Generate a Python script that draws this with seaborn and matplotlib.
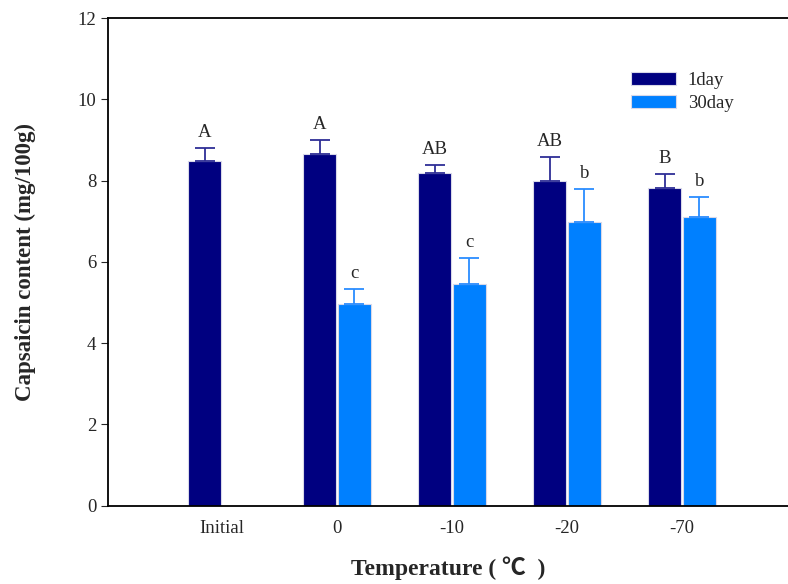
import pandas as pd
import seaborn as sns
import matplotlib.pyplot as plt
import numpy as np

temps = ['Initial', '0', '-10', '-20', '-70']
day1 = [8.48, 8.66, 8.19, 7.99, 7.82]
day1_err = [0.32, 0.34, 0.20, 0.60, 0.34]
day30 = [np.nan, 4.97, 5.46, 6.98, 7.11]
day30_err = [np.nan, 0.37, 0.64, 0.81, 0.49]
letters1 = ['A', 'A', 'AB', 'AB', 'B']
letters30 = ['', 'c', 'c', 'b', 'b']

df = pd.DataFrame({'Temperature': temps * 2,
                   'value': day1 + day30,
                   'err': day1_err + day30_err,
                   'letter': letters1 + letters30,
                   'group': ['1day'] * 5 + ['30day'] * 5})

sns.set_style("ticks")
plt.rcParams['font.family'] = ['Liberation Serif', 'DejaVu Sans']

fig = plt.figure(figsize=(7.88, 5.84), dpi=100)
ax = fig.add_axes([0.137, 0.134, 0.863, 0.835])

colors = {'1day': '#000080', '30day': '#0080ff'}
err_colors = {'1day': '#2e2e96', '30day': '#2a8cff'}

sns.barplot(data=df, x='Temperature', y='value', hue='group', order=temps,
            palette=colors, saturation=1, errorbar=None, width=0.6, gap=0.05,
            edgecolor='#d8d8e8', linewidth=0.8, ax=ax)

# upper error bars + significance letters
for cont, grp in zip(ax.containers, ['1day', '30day']):
    sub = df[df['group'] == grp].dropna(subset=['value'])
    for bar, (_, row) in zip(cont, sub.iterrows()):
        xc = bar.get_x() + bar.get_width() / 2
        ax.errorbar(xc, row['value'], yerr=[[0], [row['err']]], fmt='none',
                    ecolor=err_colors[grp], elinewidth=1.3, capsize=7, capthick=1.3)
        ax.annotate(row['letter'], xy=(xc, row['value'] + row['err']),
                    xytext=(0, 5), textcoords='offset points',
                    ha='center', va='bottom', fontsize=13.5)

ax.set_ylim(0, 12)
ax.set_yticks(range(0, 13, 2))
ax.set_xlim(-0.99, 4.92)
ax.tick_params(axis='x', length=0, labelsize=13.5, pad=10)
ax.tick_params(axis='y', direction='out', length=5, labelsize=13.5)
ax.spines['right'].set_visible(False)
for s in ['left', 'bottom', 'top']:
    ax.spines[s].set_linewidth(1.3)
    ax.spines[s].set_color('black')

ax.set_xlabel('Temperature ( \u2103  )', fontsize=17, fontweight='bold', labelpad=14,
              family=['Liberation Serif', 'Noto Sans CJK SC', 'DejaVu Sans'])
ax.set_ylabel('Capsaicin content (mg/100g)', fontsize=16.5, fontweight='bold', labelpad=30)

ax.legend(title=None, frameon=False, fontsize=13.5, loc='upper left',
          bbox_to_anchor=(0.745, 0.925), handlelength=2.4, handleheight=0.75,
          labelspacing=0.3, handletextpad=0.6)

fig.savefig('out.png', dpi=100)
